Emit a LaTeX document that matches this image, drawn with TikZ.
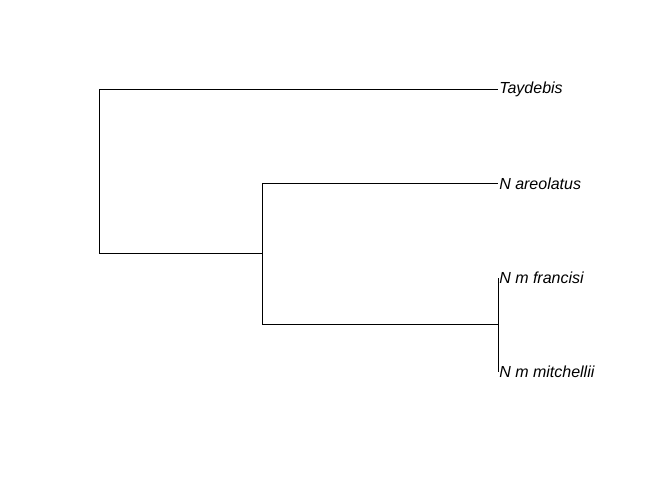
\documentclass[tikz,border=0pt]{standalone}
\usepackage{fontspec}
\setmainfont{Liberation Sans}
\begin{document}
\begin{tikzpicture}[x=0.75pt,y=0.75pt,yscale=-1,xscale=1]
\tikzset{tiplabel/.style={anchor=west,inner sep=0.75pt,font=\fontsize{12}{14}\selectfont\itshape},
branch/.style={line width=0.75pt}}
\useasboundingbox (0,0) rectangle (672,480);
\coordinate (root) at (99,253.5);
\coordinate (inner) at (262,253.5);
\coordinate (mm) at (498,324);
\node (tay) [tiplabel] at (498,89.5) {Taydebis};
\node (are) [tiplabel] at (498,183.5) {N areolatus};
\node (fra) [tiplabel] at (498,278) {N m francisi};
\node (mit) [tiplabel] at (498,372) {N m mitchellii};
\draw [branch] (root) -- (inner);
\draw [branch] (root |- tay.west) -- (root) ;
\draw [branch] (root |- tay.west) -- (tay.west);
\draw [branch] (inner |- are.west) -- (inner |- mm);
\draw [branch] (inner |- are.west) -- (are.west);
\draw [branch] (inner |- mm) -- (mm);
\draw [branch] (fra.west) -- (mit.west);
\end{tikzpicture}
\end{document}
